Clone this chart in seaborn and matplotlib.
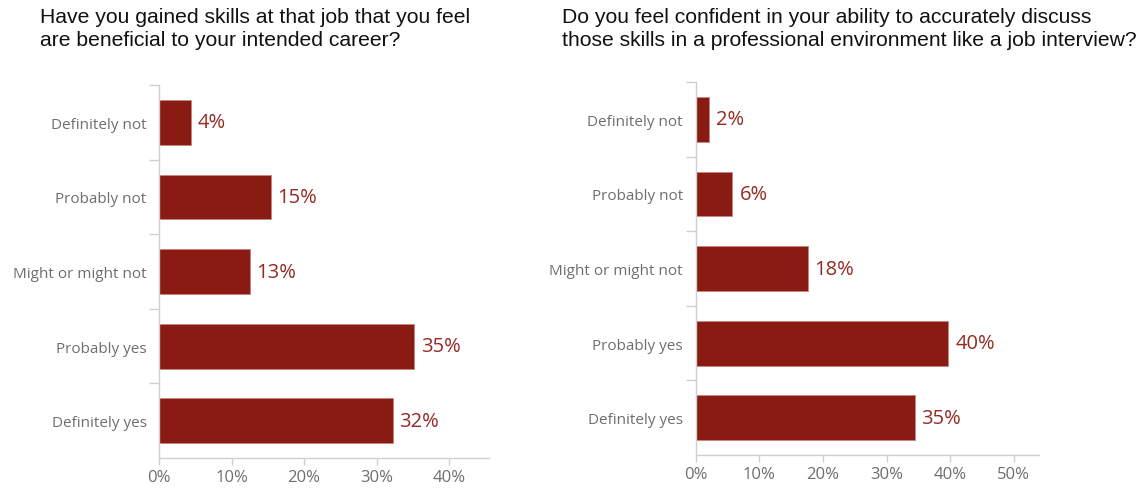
import matplotlib
matplotlib.use("Agg")
import matplotlib.pyplot as plt
import seaborn as sns
import pandas as pd
from matplotlib.ticker import FixedLocator

# answer categories (top to bottom)
categories = ["Definitely not", "Probably not", "Might or might not", "Probably yes", "Definitely yes"]

# question 1: gained skills beneficial to intended career (%)
q1_title = "Have you gained skills at that job that you feel\nare beneficial to your intended career?"
q1_values = [4.4, 15.4, 12.5, 35.2, 32.2]
q1_labels = ["4%", "15%", "13%", "35%", "32%"]

# question 2: confident discussing those skills (%)
q2_title = "Do you feel confident in your ability to accurately discuss\nthose skills in a professional environment like a job interview?"
q2_values = [2.1, 5.8, 17.6, 39.7, 34.4]
q2_labels = ["2%", "6%", "18%", "40%", "35%"]

bar_color = "#8a1b13"
label_color = "#942a24"
tick_color = "#6e6e6e"
spine_color = "#d0d0d0"

sns.set_style("white")

fig = plt.figure(figsize=(11.44, 4.89), dpi=100)
ax1 = fig.add_axes([0.139, 0.0613, 0.2885, 0.7627])
ax2 = fig.add_axes([0.608, 0.0675, 0.300, 0.7625])


def draw_panel(ax, values, labels, xmax, ticks):
    df = pd.DataFrame({"answer": categories, "pct": values})
    sns.barplot(data=df, x="pct", y="answer", orient="h", color=bar_color,
                width=0.6, saturation=1, edgecolor="#c9837e", linewidth=0.6, ax=ax)
    ax.bar_label(ax.containers[0], labels=labels, padding=5, color=label_color,
                 fontsize=14.5, family="Open Sans")
    ax.set_xlim(0, xmax)
    ax.set_ylim(4.5, -0.5)
    ax.set_xticks(ticks)
    ax.set_xticklabels([f"{t}%" for t in ticks], family="Open Sans", fontsize=12, color=tick_color)
    ax.set_yticks(range(len(categories)))
    ax.set_yticklabels(categories, family="Open Sans", fontsize=11, color=tick_color)
    ax.yaxis.set_minor_locator(FixedLocator([i - 0.5 for i in range(len(categories))]))
    ax.tick_params(axis="y", which="major", left=True, length=0, pad=9)
    ax.tick_params(axis="y", which="minor", left=True, length=7, color=spine_color, width=1)
    ax.tick_params(axis="x", bottom=True, length=5, color=spine_color, width=1, pad=3)
    ax.set_xlabel("")
    ax.set_ylabel("")
    for side in ["top", "right"]:
        ax.spines[side].set_visible(False)
    for side in ["left", "bottom"]:
        ax.spines[side].set_color(spine_color)
        ax.spines[side].set_linewidth(1)


draw_panel(ax1, q1_values, q1_labels, 45.5, [0, 10, 20, 30, 40])
draw_panel(ax2, q2_values, q2_labels, 53.9, [0, 10, 20, 30, 40, 50])

fig.text(40 / 1144, 1 - 8 / 489, q1_title, ha="left", va="top", fontsize=15.2,
         family="Liberation Sans", color="#111111", linespacing=1.3)
fig.text(562 / 1144, 1 - 8 / 489, q2_title, ha="left", va="top", fontsize=15.2,
         family="Liberation Sans", color="#111111", linespacing=1.3)

fig.savefig("out.png", dpi=100)
